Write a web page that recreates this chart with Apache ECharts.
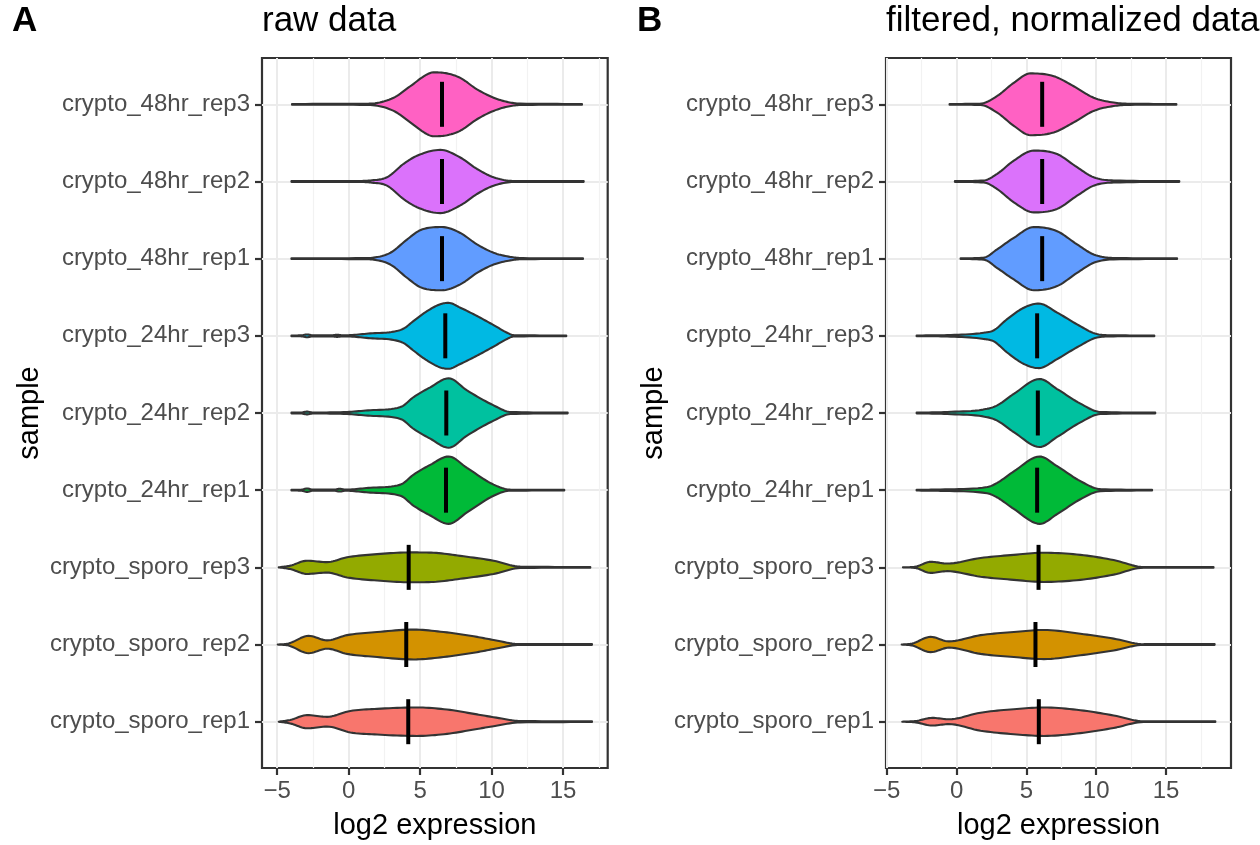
<!DOCTYPE html>
<html>
<head>
<meta charset="utf-8">
<script src="https://cdn.jsdelivr.net/npm/echarts@6/dist/echarts.min.js"></script>
<style>
  html, body { margin: 0; padding: 0; background: #fff; }
  #chart { width: 1260px; height: 845px; }
</style>
</head>
<body>
<div id="chart"></div>
<script>
// Samples, bottom to top
const samples = [
  'crypto_sporo_rep1', 'crypto_sporo_rep2', 'crypto_sporo_rep3',
  'crypto_24hr_rep1', 'crypto_24hr_rep2', 'crypto_24hr_rep3',
  'crypto_48hr_rep1', 'crypto_48hr_rep2', 'crypto_48hr_rep3'
];

// Median log2 expression per sample
const rawMedian  = [4.17, 4.03, 4.20, 6.81, 6.83, 6.76, 6.53, 6.53, 6.53];
const normMedian = [5.89, 5.65, 5.87, 5.77, 5.82, 5.77, 6.13, 6.13, 6.13];

// Density profiles: [log2 expression, relative density] (1 = widest violin)
const rawDensity = [
  [[-4.89,0],[-4.08,0.05],[-2.91,0.19],[-1.51,0.14],[0.12,0.31],[1.99,0.37],[4.78,0.41],[6.88,0.35],[8.98,0.21],[10.14,0.13],[12.0,0.02],[17.02,0.01]],
  [[-4.96,0],[-4.2,0.03],[-2.8,0.25],[-1.51,0.12],[-0.11,0.27],[1.99,0.36],[4.55,0.43],[6.64,0.36],[8.98,0.22],[10.14,0.13],[12.0,0.01],[17.02,0.01]],
  [[-4.89,0],[-4.08,0.05],[-2.91,0.19],[-1.51,0.15],[-0.11,0.29],[1.99,0.38],[4.31,0.43],[5.94,0.42],[7.81,0.33],[10.14,0.19],[12.0,0.02],[16.9,0.01]],
  [[-4.0,0.01],[-3.3,0.015],[-2.91,0.05],[-2.5,0.015],[-1.0,0.015],[-0.64,0.04],[-0.2,0.015],[0.12,0.02],[1.52,0.07],[3.62,0.16],[4.55,0.45],[5.71,0.73],[6.99,0.97],[8.28,0.64],[10.14,0.16],[11.31,0.015],[15.08,0.01]],
  [[-4.0,0.01],[-3.3,0.015],[-2.91,0.04],[-2.5,0.015],[-0.11,0.03],[1.52,0.08],[3.62,0.17],[4.55,0.46],[5.71,0.74],[6.99,1.0],[8.28,0.65],[10.14,0.22],[11.31,0.03],[15.32,0.01]],
  [[-4.0,0.01],[-3.3,0.015],[-2.91,0.04],[-2.5,0.015],[-1.2,0.015],[-0.81,0.03],[-0.4,0.015],[0.12,0.02],[1.52,0.07],[3.15,0.12],[3.85,0.21],[4.55,0.43],[5.48,0.71],[6.41,0.91],[6.99,0.95],[7.81,0.81],[8.98,0.57],[10.14,0.31],[11.08,0.09],[11.54,0.02],[15.22,0.01]],
  [[-4.0,0.01],[1.0,0.015],[1.75,0.03],[2.92,0.17],[4.08,0.55],[5.01,0.82],[6.53,0.91],[7.81,0.74],[8.98,0.41],[10.14,0.17],[11.31,0.05],[12.2,0.015],[16.39,0.01]],
  [[-4.0,0.01],[0.8,0.015],[1.52,0.03],[2.68,0.12],[3.85,0.51],[4.78,0.74],[6.41,0.91],[7.81,0.69],[8.98,0.36],[10.14,0.12],[11.54,0.015],[16.44,0.01]],
  [[-3.96,0.01],[0.8,0.015],[1.52,0.02],[3.15,0.19],[4.31,0.52],[5.48,0.86],[5.94,0.92],[6.88,0.89],[7.81,0.76],[8.98,0.43],[10.14,0.19],[11.08,0.07],[12.0,0.02],[16.32,0.01]]
];

const normDensity = [
  [[-3.89,0],[-2.93,0.02],[-1.74,0.11],[-0.55,0.07],[1.72,0.26],[4.1,0.36],[6.25,0.41],[8.87,0.33],[11.25,0.18],[13.4,0.01],[18.53,0.01]],
  [[-3.93,0],[-3.17,0.03],[-1.86,0.22],[-0.55,0.09],[1.72,0.27],[4.1,0.36],[6.25,0.42],[8.87,0.31],[11.25,0.17],[13.4,0.01],[18.48,0.01]],
  [[-3.84,0],[-2.93,0.02],[-1.86,0.16],[-0.67,0.11],[1.72,0.27],[4.1,0.36],[6.25,0.42],[8.87,0.36],[11.25,0.21],[13.4,0.01],[18.4,0.01]],
  [[-2.86,0.01],[-1.15,0.02],[2.19,0.09],[2.91,0.21],[4.1,0.54],[5.96,0.97],[7.2,0.69],[8.87,0.26],[10.3,0.03],[14.0,0.01]],
  [[-2.86,0.01],[-0.67,0.03],[2.19,0.12],[2.91,0.22],[4.1,0.55],[5.96,0.98],[7.2,0.69],[8.87,0.27],[10.3,0.03],[14.23,0.01]],
  [[-2.86,0.01],[-0.67,0.02],[1.95,0.09],[2.67,0.16],[3.62,0.48],[4.82,0.81],[5.89,0.93],[7.2,0.67],[8.63,0.33],[10.06,0.05],[11.25,0.015],[14.16,0.01]],
  [[0.29,0.01],[1.95,0.03],[2.91,0.27],[4.1,0.6],[5.53,0.91],[7.2,0.79],[8.63,0.41],[9.82,0.12],[11.25,0.02],[15.79,0.01]],
  [[-0.12,0.01],[1.95,0.03],[2.91,0.22],[4.1,0.6],[5.53,0.89],[7.2,0.79],[8.63,0.41],[9.82,0.12],[11.25,0.03],[15.95,0.01]],
  [[-0.5,0.01],[1.72,0.02],[2.91,0.24],[4.1,0.62],[5.29,0.89],[6.96,0.81],[8.39,0.52],[9.82,0.19],[11.25,0.05],[12.45,0.015],[15.74,0.01]]
];

// Axis ticks
const xTicks = [-5, 0, 5, 10, 15];
const xMinorTicks = [-2.5, 2.5, 7.5, 12.5, 17.5];
const yTicks = [1, 2, 3, 4, 5, 6, 7, 8, 9];

// Fill colours (default hue palette)
const fills = ['#F8766D', '#D39200', '#93AA00', '#00BA38', '#00C19F', '#00B9E3', '#619CFF', '#DB72FB', '#FF61C3'];

const HALF = 0.45;        // half of the violin width in category units
const FONT = "'Liberation Sans', Arial, Helvetica, sans-serif";

// x range of a panel: data extent with 5% padding on either side
function xRange(profiles) {
  let lo = Infinity, hi = -Infinity;
  profiles.forEach(p => {
    lo = Math.min(lo, p[0][0]);
    hi = Math.max(hi, p[p.length - 1][0]);
  });
  const pad = (hi - lo) * 0.05;
  return [lo - pad, hi + pad];
}

const fmtX = v => (v < 0 ? '\u2212' + Math.abs(v) : String(v));

// Smooth outline of a density profile (monotone cubic Hermite), used for drawing only
function smoothOutline(profile, steps) {
  const n = profile.length;
  const xs = profile.map(p => p[0]);
  const ys = profile.map(p => p[1]);
  const delta = [];
  for (let k = 0; k < n - 1; k++) delta.push((ys[k + 1] - ys[k]) / (xs[k + 1] - xs[k]));
  const m = new Array(n);
  m[0] = delta[0];
  m[n - 1] = delta[n - 2];
  for (let k = 1; k < n - 1; k++) {
    m[k] = delta[k - 1] * delta[k] <= 0 ? 0 : (delta[k - 1] + delta[k]) / 2;
  }
  for (let k = 0; k < n - 1; k++) {
    if (delta[k] === 0) { m[k] = 0; m[k + 1] = 0; continue; }
    const a = m[k] / delta[k], b = m[k + 1] / delta[k];
    const s = a * a + b * b;
    if (s > 9) {
      const t = 3 / Math.sqrt(s);
      m[k] = t * a * delta[k];
      m[k + 1] = t * b * delta[k];
    }
  }
  const out = [];
  for (let k = 0; k < n - 1; k++) {
    const h = xs[k + 1] - xs[k];
    for (let j = 0; j < steps; j++) {
      const t = j / steps;
      const t2 = t * t, t3 = t2 * t;
      const h00 = 2 * t3 - 3 * t2 + 1, h10 = t3 - 2 * t2 + t;
      const h01 = -2 * t3 + 3 * t2, h11 = t3 - t2;
      const y = h00 * ys[k] + h10 * h * m[k] + h01 * ys[k + 1] + h11 * h * m[k + 1];
      out.push([xs[k] + t * h, Math.max(0, y)]);
    }
  }
  out.push([xs[n - 1], ys[n - 1]]);
  return out;
}

function violinRenderer(profiles) {
  return function (params, api) {
    const i = params.dataIndex;
    const cat = api.value(1);
    const prof = smoothOutline(profiles[i], 10);
    const up = prof.map(([v, d]) => api.coord([v, cat + d * HALF]));
    const down = prof.slice().reverse().map(([v, d]) => api.coord([v, cat - d * HALF]));
    const m = api.coord([api.value(0), cat]);
    return {
      type: 'group',
      children: [
        {
          type: 'polygon',
          shape: { points: up.concat(down) },
          style: { fill: fills[i], stroke: '#333333', lineWidth: 2.1, lineJoin: 'round' }
        },
        {
          type: 'line',
          shape: { x1: m[0], y1: m[1] - 22.5, x2: m[0], y2: m[1] + 22.5 },
          style: { stroke: '#000000', lineWidth: 4 }
        }
      ]
    };
  };
}

function mainX(gridIndex, range) {
  return {
    type: 'value', gridIndex, min: range[0], max: range[1], position: 'bottom',
    axisLine: { show: false, onZero: false },
    axisTick: { show: true, length: 7, customValues: xTicks, lineStyle: { color: '#333333', width: 2.2 } },
    axisLabel: { customValues: xTicks, formatter: fmtX, color: '#4D4D4D', fontSize: 24, fontFamily: FONT, margin: 11 },
    minorTick: { show: false },
    splitLine: { show: true, lineStyle: { color: '#EBEBEB', width: 2 } },
    name: 'log2 expression', nameLocation: 'middle', nameGap: 43,
    nameTextStyle: { color: '#000000', fontSize: 29, fontFamily: FONT }
  };
}

function minorX(gridIndex, range) {
  return {
    type: 'value', gridIndex, min: range[0], max: range[1], position: 'top',
    axisLine: { show: false, onZero: false },
    axisTick: { show: false, customValues: xMinorTicks },
    axisLabel: { show: false, customValues: xMinorTicks },
    minorTick: { show: false },
    splitLine: { show: true, lineStyle: { color: '#F2F2F2', width: 1.2 } }
  };
}

function sampleY(gridIndex) {
  return {
    type: 'value', gridIndex, min: 0.4, max: 9.6, position: 'left',
    axisLine: { show: false, onZero: false },
    axisTick: { show: true, length: 7, customValues: yTicks, lineStyle: { color: '#333333', width: 2.2 } },
    axisLabel: {
      customValues: yTicks, color: '#4D4D4D', fontSize: 24, fontFamily: FONT, margin: 12,
      formatter: v => samples[Math.round(v) - 1]
    },
    minorTick: { show: false },
    splitLine: { show: true, lineStyle: { color: '#EBEBEB', width: 2 } },
    name: 'sample', nameLocation: 'middle', nameGap: 218, nameRotate: 90,
    nameTextStyle: { color: '#000000', fontSize: 29, fontFamily: FONT }
  };
}

const rangeA = xRange(rawDensity);
const rangeB = xRange(normDensity);

const chart = echarts.init(document.getElementById('chart'), null, { renderer: 'canvas' });

chart.setOption({
  animation: false,
  backgroundColor: '#ffffff',
  textStyle: { fontFamily: FONT },
  title: [
    { text: 'A', left: 12, top: 4, padding: 0, textStyle: { fontSize: 35, fontWeight: 'bold', color: '#000', fontFamily: FONT } },
    { text: 'raw data', left: 262, top: 4, padding: 0, textStyle: { fontSize: 35, fontWeight: 'normal', color: '#000', fontFamily: FONT } },
    { text: 'B', left: 637, top: 4, padding: 0, textStyle: { fontSize: 35, fontWeight: 'bold', color: '#000', fontFamily: FONT } },
    { text: 'filtered, normalized data', left: 886, top: 4, padding: 0, textStyle: { fontSize: 35, fontWeight: 'normal', color: '#000', fontFamily: FONT } }
  ],
  grid: [
    { left: 262, top: 58, width: 345.7, height: 712, show: true, borderColor: '#333333', borderWidth: 2.2, backgroundColor: 'transparent' },
    { left: 886, top: 58, width: 345, height: 712, show: true, borderColor: '#333333', borderWidth: 2.2, backgroundColor: 'transparent' }
  ],
  xAxis: [mainX(0, rangeA), minorX(0, rangeA), mainX(1, rangeB), minorX(1, rangeB)],
  yAxis: [sampleY(0), sampleY(1)],
  series: [
    {
      type: 'custom', xAxisIndex: 0, yAxisIndex: 0,
      renderItem: violinRenderer(rawDensity),
      encode: { x: 0, y: 1 },
      data: samples.map((s, i) => [rawMedian[i], i + 1])
    },
    {
      type: 'custom', xAxisIndex: 2, yAxisIndex: 1,
      renderItem: violinRenderer(normDensity),
      encode: { x: 0, y: 1 },
      data: samples.map((s, i) => [normMedian[i], i + 1])
    }
  ]
});
</script>
</body>
</html>
